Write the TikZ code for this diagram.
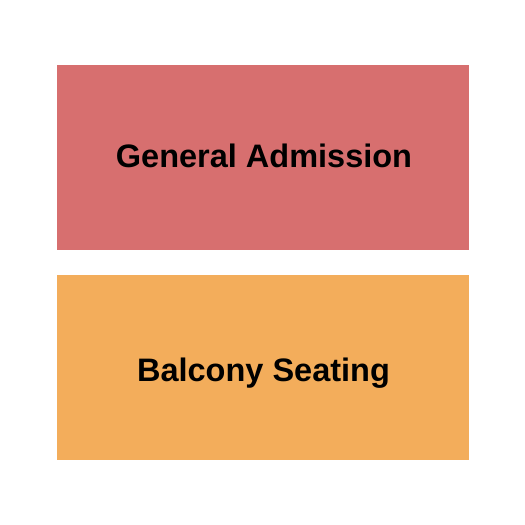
\documentclass[tikz,border=0pt]{standalone}
\usepackage{fontspec}
\setmainfont{Liberation Sans}
\definecolor{gared}{HTML}{D76F6F}
\definecolor{balor}{HTML}{F3AD5B}
\begin{document}
\begin{tikzpicture}[x=1pt,y=-1pt,
  label/.style={font=\fontsize{32.5}{38}\selectfont\bfseries, text=black, inner sep=0pt, anchor=base}]
\useasboundingbox (0,0) rectangle (525,525);
\fill[white] (0,0) rectangle (525,525);
\fill[gared] (57,65) rectangle (469,250);
\fill[balor] (57,275) rectangle (469,460);
\node[label] (ga) at (264,167) {General Admission};
\node[label] (bs) at (263.5,381) {Balcony Seating};
\end{tikzpicture}
\end{document}
